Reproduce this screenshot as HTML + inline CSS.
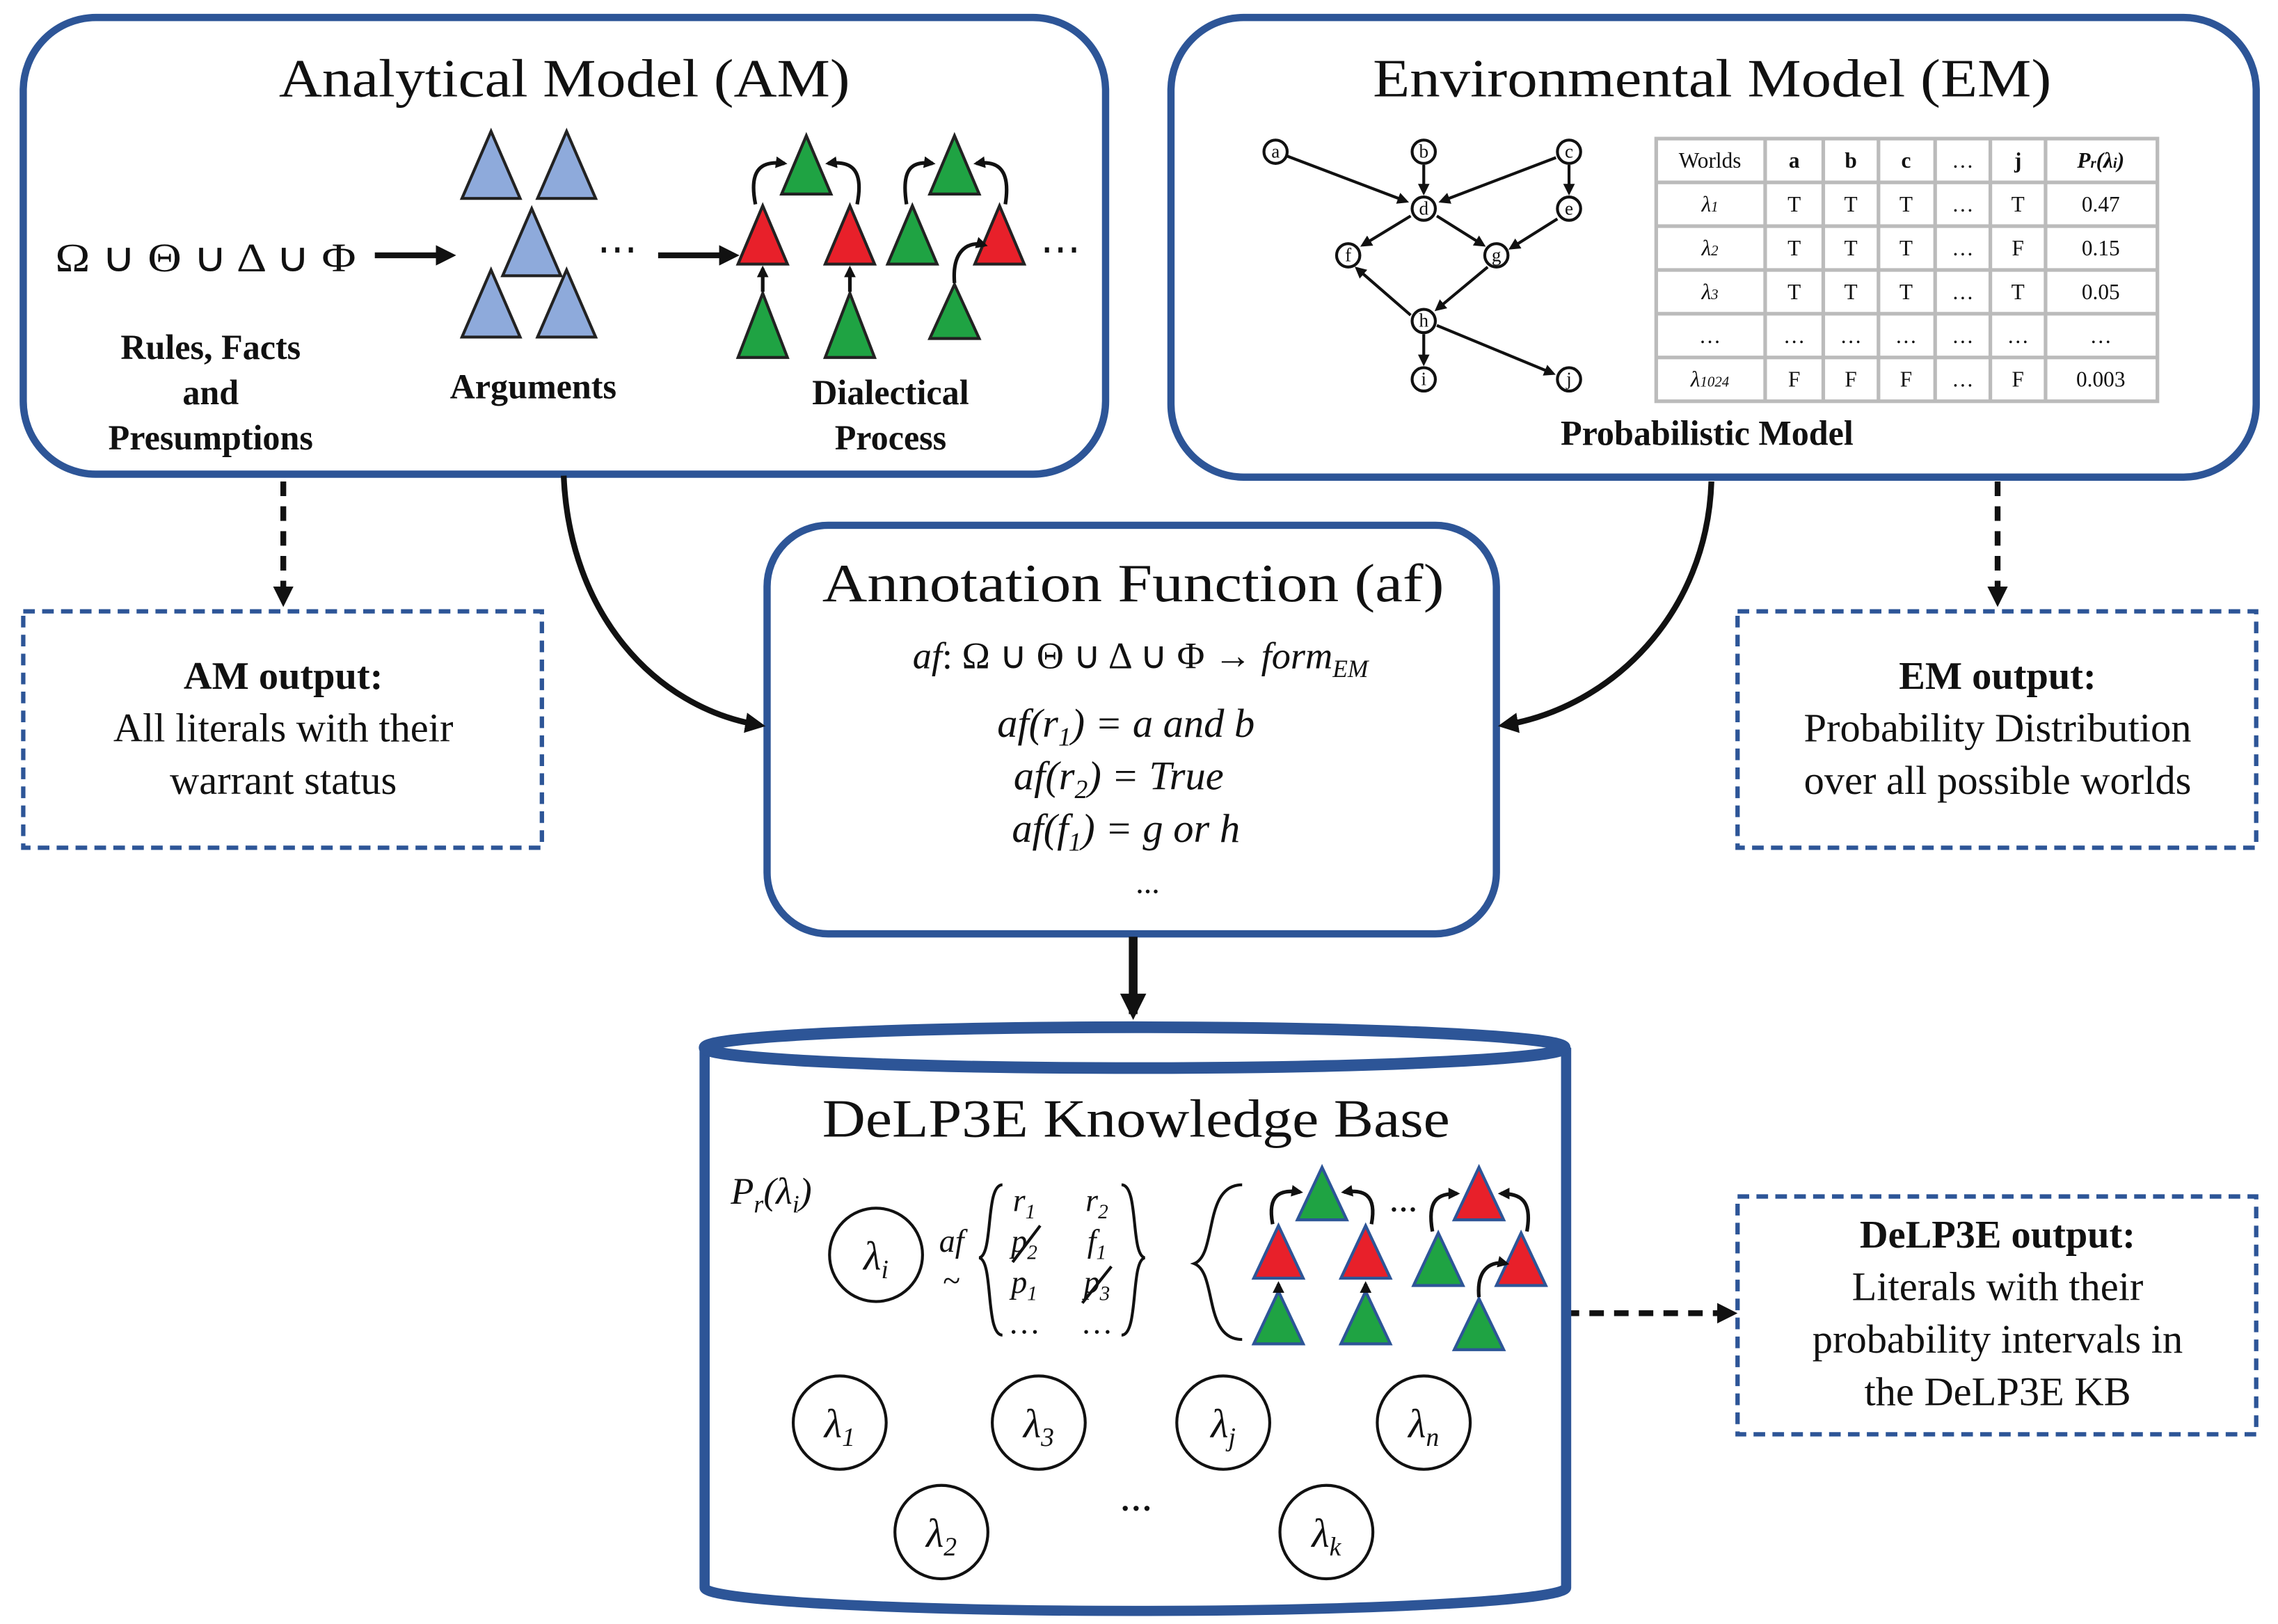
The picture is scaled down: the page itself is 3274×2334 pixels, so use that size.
<!DOCTYPE html>
<html><head><meta charset="utf-8"><style>
html,body{margin:0;padding:0;background:#fff;}
svg{display:block;}
text{font-family:"Liberation Serif",serif;fill:#111;}
.t{font-size:37px;}
.m{font-size:25px;}
.b{font-size:24px;font-weight:bold;}
.i{font-style:italic;}
</style></head><body>
<svg width="3274" height="2334" viewBox="0 0 1568 1113" preserveAspectRatio="none" xmlns="http://www.w3.org/2000/svg">
<defs>
<marker id="ah" markerWidth="8" markerHeight="8" refX="6" refY="4" orient="auto" markerUnits="userSpaceOnUse"><path d="M0,0 L8,4 L0,8 z" fill="#111"/></marker>
<marker id="ah2" markerWidth="18" markerHeight="18" refX="14" refY="9" orient="auto" markerUnits="userSpaceOnUse"><path d="M0,0 L18,9 L0,18 z" fill="#111"/></marker>
<marker id="ah3" markerWidth="14" markerHeight="14" refX="10" refY="7" orient="auto" markerUnits="userSpaceOnUse"><path d="M0,0 L14,7 L0,14 z" fill="#111"/></marker>
</defs>
<!-- AM -->
<rect x="16" y="12" width="745" height="313" rx="50" fill="none" stroke="#2d5597" stroke-width="5"/>
<text x="192" y="66" class="t" textLength="393" lengthAdjust="spacingAndGlyphs">Analytical Model (AM)</text>
<text x="38" y="186" style="font-size:28px" textLength="207" lengthAdjust="spacingAndGlyphs">Ω ∪ Θ ∪ Δ ∪ Φ</text>
<line x1="258" y1="175" x2="310" y2="175" stroke="#111" stroke-width="4" marker-end="url(#ah3)"/>
<g fill="#8eaadb" stroke="#222" stroke-width="2">
<polygon points="338,90 318,136 358,136"/><polygon points="390,90 370,136 410,136"/>
<polygon points="366,143 346,189 386,189"/><polygon points="338,185 318,231 358,231"/><polygon points="390,185 370,231 410,231"/>
</g>
<text x="145" y="246" text-anchor="middle" class="b">Rules, Facts</text>
<text x="145" y="277" text-anchor="middle" class="b">and</text>
<text x="145" y="308" text-anchor="middle" class="b">Presumptions</text>
<text x="367" y="273" text-anchor="middle" class="b">Arguments</text>
<text x="425" y="180" text-anchor="middle" style="font-size:28px">⋯</text>
<line x1="453" y1="175" x2="505" y2="175" stroke="#111" stroke-width="4" marker-end="url(#ah3)"/>
<g stroke="#222" stroke-width="2">
<polygon points="555,93 538,133 572,133" fill="#1fa343"/>
<polygon points="525,141 508,181 542,181" fill="#e8202a"/>
<polygon points="585,141 568,181 602,181" fill="#e8202a"/>
<polygon points="525,201 508,245 542,245" fill="#1fa343"/>
<polygon points="585,201 568,245 602,245" fill="#1fa343"/>
<polygon points="657,93 640,133 674,133" fill="#1fa343"/>
<polygon points="628,141 611,181 645,181" fill="#1fa343"/>
<polygon points="688,141 671,181 705,181" fill="#e8202a"/>
<polygon points="657,195 640,232 674,232" fill="#1fa343"/>
</g>
<g fill="none" stroke="#111" stroke-width="2.5">
<path d="M525,200 L525,184" marker-end="url(#ah)"/><path d="M585,200 L585,184" marker-end="url(#ah)"/>
<path d="M520,140 C515,115 525,110 540,112" marker-end="url(#ah)"/>
<path d="M590,140 C595,115 585,110 570,112" marker-end="url(#ah)"/>
<path d="M624,140 C620,115 628,110 642,112" marker-end="url(#ah)"/>
<path d="M692,140 C696,115 686,110 672,112" marker-end="url(#ah)"/>
<path d="M657,194 C655,170 668,165 678,168" marker-end="url(#ah)"/>
</g>
<text x="730" y="180" text-anchor="middle" style="font-size:28px">⋯</text>
<text x="613" y="277" text-anchor="middle" class="b">Dialectical</text>
<text x="613" y="308" text-anchor="middle" class="b">Process</text>
<!-- EM -->
<rect x="806" y="12" width="747" height="315" rx="50" fill="none" stroke="#2d5597" stroke-width="5"/>
<text x="945" y="66" class="t" textLength="467" lengthAdjust="spacingAndGlyphs">Environmental Model (EM)</text>
<g fill="none" stroke="#111" stroke-width="2">
<path d="M886,107 L968,138" marker-end="url(#ah)"/>
<path d="M980,113 L980,132" marker-end="url(#ah)"/>
<path d="M1071,108 L992,138" marker-end="url(#ah)"/>
<path d="M1080,113 L1080,132" marker-end="url(#ah)"/>
<path d="M971,148 L938,168" marker-end="url(#ah)"/>
<path d="M989,148 L1021,168" marker-end="url(#ah)"/>
<path d="M1072,150 L1040,170" marker-end="url(#ah)"/>
<path d="M1024,183 L989,212" marker-end="url(#ah)"/>
<path d="M971,216 L934,184" marker-end="url(#ah)"/>
<path d="M980,229 L980,249" marker-end="url(#ah)"/>
<path d="M989,223 L1069,256" marker-end="url(#ah)"/>
</g>
<g fill="#fff" stroke="#111" stroke-width="2">
<circle cx="878" cy="104" r="8"/><circle cx="980" cy="104" r="8"/><circle cx="1080" cy="104" r="8"/>
<circle cx="980" cy="143" r="8"/><circle cx="1080" cy="143" r="8"/><circle cx="928" cy="175" r="8"/>
<circle cx="1030" cy="175" r="8"/><circle cx="980" cy="220" r="8"/><circle cx="980" cy="260" r="8"/><circle cx="1080" cy="260" r="8"/>
</g>
<g style="font-size:13px" text-anchor="middle">
<text x="878" y="108">a</text><text x="980" y="108">b</text><text x="1080" y="108">c</text><text x="980" y="147">d</text><text x="1080" y="147">e</text><text x="928" y="179">f</text><text x="1030" y="179">g</text><text x="980" y="224">h</text><text x="980" y="264">i</text><text x="1080" y="264">j</text>
</g>
<g stroke="#bbb" stroke-width="2.5" fill="none">
<rect x="1140" y="95" width="345" height="180"/>
<line x1="1140" y1="125" x2="1485" y2="125"/><line x1="1140" y1="155" x2="1485" y2="155"/><line x1="1140" y1="185" x2="1485" y2="185"/><line x1="1140" y1="215" x2="1485" y2="215"/><line x1="1140" y1="245" x2="1485" y2="245"/>
<line x1="1215" y1="95" x2="1215" y2="275"/><line x1="1255" y1="95" x2="1255" y2="275"/><line x1="1293" y1="95" x2="1293" y2="275"/><line x1="1332" y1="95" x2="1332" y2="275"/><line x1="1370" y1="95" x2="1370" y2="275"/><line x1="1408" y1="95" x2="1408" y2="275"/>
</g>
<g style="font-size:15px" text-anchor="middle">
<text x="1177" y="115">Worlds</text><text x="1235" y="115" font-weight="bold">a</text><text x="1274" y="115" font-weight="bold">b</text><text x="1312" y="115" font-weight="bold">c</text><text x="1351" y="115">…</text><text x="1389" y="115" font-weight="bold">j</text><text x="1446" y="115" font-weight="bold" font-style="italic">P<tspan font-size="10">r</tspan>(λ<tspan font-size="10">i</tspan>)</text>
<text x="1177" y="145" class="i">λ<tspan font-size="10">1</tspan></text><text x="1235" y="145">T</text><text x="1274" y="145">T</text><text x="1312" y="145">T</text><text x="1351" y="145">…</text><text x="1389" y="145">T</text><text x="1446" y="145">0.47</text>
<text x="1177" y="175" class="i">λ<tspan font-size="10">2</tspan></text><text x="1235" y="175">T</text><text x="1274" y="175">T</text><text x="1312" y="175">T</text><text x="1351" y="175">…</text><text x="1389" y="175">F</text><text x="1446" y="175">0.15</text>
<text x="1177" y="205" class="i">λ<tspan font-size="10">3</tspan></text><text x="1235" y="205">T</text><text x="1274" y="205">T</text><text x="1312" y="205">T</text><text x="1351" y="205">…</text><text x="1389" y="205">T</text><text x="1446" y="205">0.05</text>
<text x="1177" y="235">…</text><text x="1235" y="235">…</text><text x="1274" y="235">…</text><text x="1312" y="235">…</text><text x="1351" y="235">…</text><text x="1389" y="235">…</text><text x="1446" y="235">…</text>
<text x="1177" y="265" class="i">λ<tspan font-size="10">1024</tspan></text><text x="1235" y="265">F</text><text x="1274" y="265">F</text><text x="1312" y="265">F</text><text x="1351" y="265">…</text><text x="1389" y="265">F</text><text x="1446" y="265">0.003</text>
</g>
<text x="1175" y="305" text-anchor="middle" class="b">Probabilistic Model</text>
<!-- Annotation -->
<rect x="528" y="360" width="502" height="280" rx="42" fill="none" stroke="#2d5597" stroke-width="5"/>
<text x="566" y="412" class="t" textLength="428" lengthAdjust="spacingAndGlyphs">Annotation Function (af)</text>
<text x="785" y="458" text-anchor="middle" style="font-size:26px"><tspan class="i">af</tspan>: Ω ∪ Θ ∪ Δ ∪ Φ → <tspan class="i">form<tspan font-size="17" dy="6">EM</tspan></tspan></text>
<text x="775" y="505" text-anchor="middle" style="font-size:28px" class="i">af(r<tspan font-size="18" dy="6">1</tspan><tspan dy="-6">) = a and b</tspan></text>
<text x="770" y="541" text-anchor="middle" style="font-size:28px" class="i">af(r<tspan font-size="18" dy="6">2</tspan><tspan dy="-6">) = True</tspan></text>
<text x="775" y="577" text-anchor="middle" style="font-size:28px" class="i">af(f<tspan font-size="18" dy="6">1</tspan><tspan dy="-6">) = g or h</tspan></text>
<text x="790" y="612" text-anchor="middle" style="font-size:22px">...</text>
<!-- outputs -->
<g fill="none" stroke="#2d5597" stroke-width="3" stroke-dasharray="8,5">
<rect x="16" y="419" width="357" height="162"/>
<rect x="1196" y="419" width="357" height="162"/>
<rect x="1196" y="820" width="357" height="163"/>
</g>
<text x="195" y="472" text-anchor="middle" class="b" style="font-size:27px">AM output:</text>
<text x="195" y="508" text-anchor="middle" style="font-size:28px">All literals with their</text>
<text x="195" y="544" text-anchor="middle" style="font-size:28px">warrant status</text>
<text x="1375" y="472" text-anchor="middle" class="b" style="font-size:27px">EM output:</text>
<text x="1375" y="508" text-anchor="middle" style="font-size:28px">Probability Distribution</text>
<text x="1375" y="544" text-anchor="middle" style="font-size:28px">over all possible worlds</text>
<text x="1375" y="855" text-anchor="middle" class="b" style="font-size:27px">DeLP3E output:</text>
<text x="1375" y="891" text-anchor="middle" style="font-size:28px">Literals with their</text>
<text x="1375" y="927" text-anchor="middle" style="font-size:28px">probability intervals in</text>
<text x="1375" y="963" text-anchor="middle" style="font-size:28px">the DeLP3E KB</text>
<!-- connectors -->
<g fill="none" stroke="#111" stroke-width="4">
<path d="M195,330 L195,412" stroke-dasharray="10,7" marker-end="url(#ah3)"/>
<path d="M1375,330 L1375,412" stroke-dasharray="10,7" marker-end="url(#ah3)"/>
<path d="M1077,900 L1192,900" stroke-dasharray="10,7" marker-end="url(#ah3)"/>
<path d="M388,326 C392,420 450,485 523,497" marker-end="url(#ah3)"/>
<path d="M1178,330 C1175,420 1110,485 1035,497" marker-end="url(#ah3)"/>
<path d="M780,642 L780,695" stroke-width="6" marker-end="url(#ah2)"/>
</g>
<!-- cylinder -->
<path d="M485,718 L485,1088 A296,16 0 0 0 1078,1088 L1078,718" fill="none" stroke="#2d5597" stroke-width="7"/>
<ellipse cx="781" cy="718" rx="296" ry="14" fill="none" stroke="#2d5597" stroke-width="8"/>
<text x="566" y="779" class="t" textLength="432" lengthAdjust="spacingAndGlyphs">DeLP3E Knowledge Base</text>
<text x="503" y="825" style="font-size:26px" class="i">P<tspan font-size="17" dy="6">r</tspan><tspan dy="-6">(λ</tspan><tspan font-size="17" dy="6">i</tspan><tspan dy="-6">)</tspan></text>
<g fill="none" stroke="#111" stroke-width="2">
<circle cx="603" cy="860" r="32"/>
<circle cx="578" cy="975" r="32"/><circle cx="715" cy="975" r="32"/><circle cx="842" cy="975" r="32"/><circle cx="980" cy="975" r="32"/>
<circle cx="648" cy="1050" r="32"/><circle cx="913" cy="1050" r="32"/>
</g>
<g style="font-size:28px" class="i" text-anchor="middle">
<text x="603" y="870" class="i">λ<tspan font-size="18" dy="6">i</tspan></text>
<text x="578" y="985" class="i">λ<tspan font-size="18" dy="6">1</tspan></text>
<text x="715" y="985" class="i">λ<tspan font-size="18" dy="6">3</tspan></text>
<text x="842" y="985" class="i">λ<tspan font-size="18" dy="6">j</tspan></text>
<text x="980" y="985" class="i">λ<tspan font-size="18" dy="6">n</tspan></text>
<text x="648" y="1060" class="i">λ<tspan font-size="18" dy="6">2</tspan></text>
<text x="913" y="1060" class="i">λ<tspan font-size="18" dy="6">k</tspan></text>
</g>
<text x="782" y="1035" text-anchor="middle" style="font-size:30px">...</text>
<text x="655" y="858" text-anchor="middle" style="font-size:22px" class="i">af</text>
<text x="655" y="885" text-anchor="middle" style="font-size:22px">~</text>
<g fill="none" stroke="#111" stroke-width="2">
<path d="M690,812 C678,812 684,860 674,862 C684,864 678,915 690,915"/>
<path d="M772,812 C784,812 778,860 788,862 C778,864 784,915 772,915"/>
<path d="M855,812 C828,812 838,860 822,866 C838,872 828,918 855,918"/>
<line x1="697" y1="865" x2="716" y2="840"/><line x1="745" y1="893" x2="765" y2="868"/>
</g>
<g style="font-size:22px" class="i" text-anchor="middle">
<text x="705" y="830">r<tspan font-size="14" dy="5">1</tspan></text><text x="755" y="830">r<tspan font-size="14" dy="5">2</tspan></text>
<text x="705" y="858">p<tspan font-size="14" dy="5">2</tspan></text><text x="755" y="858">f<tspan font-size="14" dy="5">1</tspan></text>
<text x="705" y="886">p<tspan font-size="14" dy="5">1</tspan></text><text x="755" y="886">p<tspan font-size="14" dy="5">3</tspan></text>
<text x="705" y="914" style="font-style:normal">…</text><text x="755" y="914" style="font-style:normal">…</text>
</g>
<g stroke="#2d5597" stroke-width="2">
<polygon points="910,800 893,836 927,836" fill="#1fa343"/>
<polygon points="880,840 863,876 897,876" fill="#e8202a"/>
<polygon points="940,840 923,876 957,876" fill="#e8202a"/>
<polygon points="880,885 863,921 897,921" fill="#1fa343"/>
<polygon points="940,885 923,921 957,921" fill="#1fa343"/>
<polygon points="1018,800 1001,836 1035,836" fill="#e8202a"/>
<polygon points="990,845 973,881 1007,881" fill="#1fa343"/>
<polygon points="1047,845 1030,881 1064,881" fill="#e8202a"/>
<polygon points="1018,890 1001,925 1035,925" fill="#1fa343"/>
</g>
<g fill="none" stroke="#111" stroke-width="2.5">
<path d="M880,884 L880,880" marker-end="url(#ah)"/><path d="M940,884 L940,880" marker-end="url(#ah)"/>
<path d="M876,839 C872,818 882,815 895,817" marker-end="url(#ah)"/>
<path d="M944,839 C948,818 938,815 925,817" marker-end="url(#ah)"/>
<path d="M986,844 C982,822 990,818 1003,818" marker-end="url(#ah)"/>
<path d="M1051,844 C1055,822 1046,818 1033,818" marker-end="url(#ah)"/>
<path d="M1018,889 C1016,868 1028,864 1037,866" marker-end="url(#ah)"/>
</g>
<text x="966" y="830" text-anchor="middle" style="font-size:26px">...</text>
</svg>
</body></html>
